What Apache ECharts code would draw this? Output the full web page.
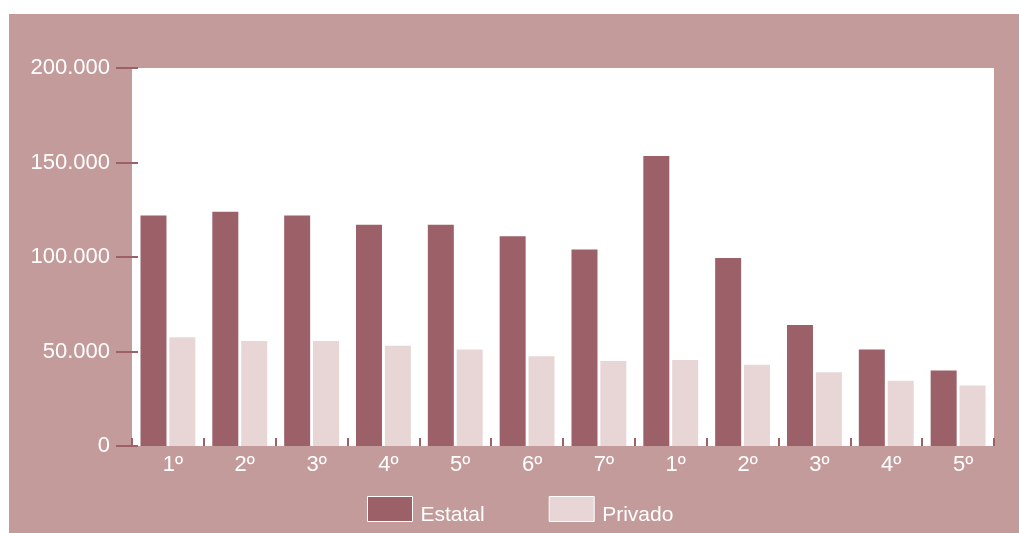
<!DOCTYPE html>
<html>
<head>
<meta charset="utf-8">
<script src="https://cdn.jsdelivr.net/npm/echarts@6/dist/echarts.min.js"></script>
<style>
html,body{margin:0;padding:0;background:#fff;width:1019px;height:533px;overflow:hidden;}
#c{position:absolute;left:9px;top:14px;width:1010px;height:519px;}
</style>
</head>
<body>
<div id="c"></div>
<script>
var categories = ['1º','2º','3º','4º','5º','6º','7º','1º','2º','3º','4º','5º'];
var estatal = [122000,124000,122000,117000,117000,111000,104000,153500,99500,64000,51000,40000];
var privado = [57500,55500,55500,53000,51000,47500,45000,45500,43000,39000,34500,32000];
var yTicks = [0,50000,100000,150000,200000];

var dark = '#9c6068', light = '#e8d6d6', bg = '#c49b9b';
var font = 'Liberation Sans, Arial, Helvetica, sans-serif';
var chart = echarts.init(document.getElementById('c'), null, {renderer:'canvas'});
chart.setOption({
  backgroundColor: bg,
  animation: false,
  textStyle: {fontFamily: font},
  grid: {left:123, top:54, right:25, bottom:87, backgroundColor:'#fff', show:true, borderWidth:0},
  legend: {
    left: 353, top: 477, itemWidth: 45, itemHeight: 25, itemGap: 64, icon:'rect',
    formatter: '{t|{name}}',
    textStyle: {color:'#fff', fontSize:21, fontFamily:font, padding:[0,0,0,3],
      rich: {t: {color:'#fff', fontSize:21, fontFamily:font, padding:[12,0,0,0]}}},
    data: [
      {name:'Estatal', itemStyle:{color:dark, borderColor:'#fff', borderWidth:1}},
      {name:'Privado', itemStyle:{color:light, borderColor:'#fff', borderWidth:1}}
    ]
  },
  xAxis: {
    type:'category', data:categories,
    axisLine:{show:false},
    axisTick:{show:true, inside:true, length:8, lineStyle:{color:dark, width:2}, alignWithLabel:false},
    axisLabel:{color:'#fff', fontSize:22, margin:8, fontFamily:font, padding:[0,0,0,10]}
  },
  yAxis: [{
    type:'value', min:yTicks[0], max:yTicks[yTicks.length-1], interval:50000,
    splitLine:{show:false},
    axisLine:{show:false},
    axisTick:{show:true, length:16, lineStyle:{color:dark, width:2}},
    axisLabel:{color:'#fff', fontSize:22, margin:22, fontFamily:font, padding:[2,0,0,0],
      formatter:function(v){return v===0?'0':v.toString().replace(/\B(?=(\d{3})+(?!\d))/g,'.');}}
  },{
    type:'value', position:'left', min:yTicks[0], max:yTicks[yTicks.length-1], interval:50000,
    splitLine:{show:false}, axisLine:{show:false}, axisLabel:{show:false},
    axisTick:{show:true, inside:true, length:6, lineStyle:{color:dark, width:2}}
  }],
  series: [
    {name:'Estatal', type:'bar', data:estatal, barWidth:26, barGap:'11%', itemStyle:{color:dark}},
    {name:'Privado', type:'bar', data:privado, barWidth:26, itemStyle:{color:light}}
  ]
});
</script>
</body>
</html>
